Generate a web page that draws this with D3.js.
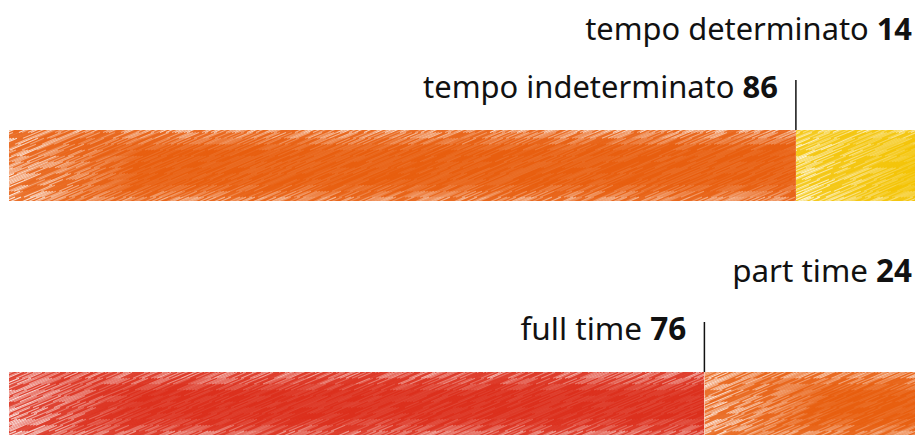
<!DOCTYPE html>
<html><head><meta charset="utf-8">
<script src="https://cdn.jsdelivr.net/npm/d3@7"></script>
<style>body{margin:0;background:#fff}svg{display:block}text{font-family:"Noto Sans",sans-serif;fill:#111}</style>
</head><body><svg id="c" width="915" height="435"></svg>
<script>
const groups = ["contratto", "orario"];
const labels = [["tempo indeterminato", "tempo determinato"], ["full time", "part time"]];
const values = [[86, 14], [76, 24]];
const colors = [["#E85D0D", "#F4C300"], ["#DC2E1B", "#E85D0D"]];

const svg = d3.select("#c");
const x = d3.scaleLinear().domain([0, 100]).range([9, 924]);
const barTop = [130, 372], barH = [71, 63];
const targetW = [[355, 327], [166, 180]];

const defs = svg.append("defs");
function rnd(a) { const s = Math.sin(a) * 43758.5453; return s - Math.floor(s); }
groups.forEach((g, gi) => {
  const gy = barTop[gi], h = barH[gi];
  let start = 0;
  values[gi].forEach((v, si) => {
    const x0 = x(start), x1 = x(start + v);
    const id = `clip${gi}_${si}`;
    defs.append("clipPath").attr("id", id).append("rect")
      .attr("x", x0).attr("y", gy).attr("width", x1 - x0).attr("height", h);
    const grp = svg.append("g").attr("clip-path", `url(#${id})`);
    grp.append("rect").attr("x", x0).attr("y", gy).attr("width", x1 - x0).attr("height", h)
      .attr("fill", colors[gi][si]);
    const slope = 0.42, step = 3.0, seg = 14;
    const segs = [];
    let n = 0;
    for (let k = x0 - h / slope - 10; k < x1 + 10; k += step, n++) {
      const L = (h + 4) / slope;
      for (let t = 0; t < L; t += seg) {
        const sx = k + t, sy = gy + h + 2 - t * slope;
        const r = rnd(n * 1.7 + t * 0.13 + gi * 11 + si * 5);
        const edgeTop = Math.max(0, 1 - (sy - gy) / 22);
        const edgeLeft = Math.max(0, 1 - (sx - x0) / 120);
        const edgeBot = Math.max(0, 1 - (gy + h - sy) / 14) * 0.5;
        let o = (0.12 + 0.75 * Math.max(edgeTop, edgeLeft, edgeBot)) * (r > 0.45 ? 1 : 0.2);
        o *= 0.5 + 0.5 * rnd(n * 3.3 + gi);
        segs.push({x1: sx, y1: sy, x2: sx + seg, y2: sy - seg * slope, o});
      }
    }
    grp.selectAll("line.h").data(segs).enter().append("line")
      .attr("x1", d => d.x1).attr("y1", d => d.y1).attr("x2", d => d.x2).attr("y2", d => d.y2)
      .attr("stroke", "#fff").attr("stroke-opacity", d => d.o).attr("stroke-width", 1.1)
      .attr("stroke-linecap", "butt");
    start += v;
  });
  const xb = x(values[gi][0]);
  svg.append("line").attr("x1", xb).attr("x2", xb).attr("y1", barTop[gi] - 50).attr("y2", barTop[gi])
    .attr("stroke", "#111").attr("stroke-width", 1.5);
  function lab(xr, yb, name, val, tw) {
    const t = svg.append("text").attr("x", xr).attr("y", yb).attr("text-anchor", "end").attr("font-size", 26);
    t.append("tspan").text(name + " ");
    t.append("tspan").attr("font-weight", 700).text(val);
    const w = t.node().getComputedTextLength();
    t.attr("font-size", 26 * tw / w);
  }
  lab(xb - 18, barTop[gi] - 32, labels[gi][0], values[gi][0], targetW[gi][0]);
  lab(912, barTop[gi] - 90, labels[gi][1], values[gi][1], targetW[gi][1]);
});
</script></body></html>
